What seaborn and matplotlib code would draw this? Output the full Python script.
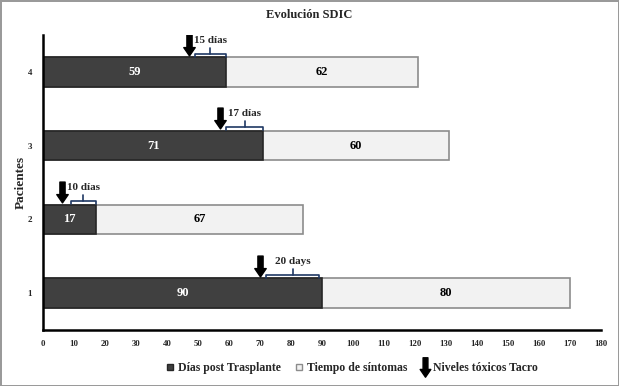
import pandas as pd
import seaborn as sns
import matplotlib.pyplot as plt
from matplotlib.path import Path
from matplotlib.lines import Line2D

# --- Data ---
pacientes = ["4", "3", "2", "1"]
dias_post = [59, 71, 17, 90]
tiempo_sintomas = [62, 60, 67, 80]
arrow_x = [47, 57, 6, 70]            # toxic tacrolimus levels
bracket_start = [49, 59, 9, 72]
bracket_end = [59, 71, 17, 89]
bracket_label = ["15 días", "17 días", "10 días", "20 days"]
x_ticks = list(range(0, 181, 10))

df = pd.DataFrame({
    "paciente": pacientes,
    "dias": dias_post,
    "sintomas": tiempo_sintomas,
})
df["total"] = df["dias"] + df["sintomas"]

sns.set_style("white")
plt.rcParams["font.family"] = ["Liberation Serif", "DejaVu Serif"]
plt.rcParams["font.weight"] = "bold"

dark = "#404040"
light = "#f2f2f2"

# thick down arrow as marker
arrow_path = Path([(-0.25, 1), (0.25, 1), (0.25, -0.2), (0.55, -0.2), (0, -1),
                   (-0.55, -0.2), (-0.25, -0.2), (-0.25, 1)], closed=True)

fig = plt.figure(figsize=(6.19, 3.86), dpi=100)
fig.patch.set_edgecolor("#9a9a9a")
fig.patch.set_linewidth(2)
ax = fig.add_axes([0.0695, 0.145, 0.9015, 0.764])

# light bars span the full total, dark bars on top
sns.barplot(data=df, x="total", y="paciente", order=pacientes, orient="h",
            color=light, edgecolor="#8c8c8c", linewidth=1.2, width=0.4,
            saturation=1, ax=ax)
sns.barplot(data=df, x="dias", y="paciente", order=pacientes, orient="h",
            color=dark, edgecolor="#262626", linewidth=1.2, width=0.4,
            saturation=1, ax=ax)

for i, row in df.iterrows():
    ax.text(row["dias"] / 2, i, str(row["dias"]), ha="center", va="center",
            color="white", fontsize=9, fontweight="bold")
    ax.text(row["dias"] + row["sintomas"] / 2, i, str(row["sintomas"]),
            ha="center", va="center", color="black", fontsize=9, fontweight="bold")

    # arrow
    ax.plot(arrow_x[i], i - 0.37, marker=arrow_path, markersize=15,
            color="black", linestyle="none")

    # bracket
    yb = i - 0.25
    x0, x1 = bracket_start[i], bracket_end[i]
    xm = (x0 + x1) / 2
    ax.plot([x0, x0, x1, x1], [i - 0.21, yb, yb, i - 0.21], color="#1f3864", lw=1.2)
    ax.plot([xm, xm], [yb, yb - 0.08], color="#1f3864", lw=1.2)
    ax.text(xm, yb - 0.12, bracket_label[i], ha="center", va="bottom",
            fontsize=8, fontweight="bold")

ax.set_xlim(0, 180)
ax.set_ylim(3.5, -0.5)
ax.set_xticks(x_ticks)
ax.set_xticklabels([str(t) for t in x_ticks], fontsize=6.3, fontweight="bold")
ax.tick_params(axis="y", labelsize=6.5, length=0, pad=8)
ax.tick_params(axis="x", length=0, pad=7)
ax.set_xlabel("")
ax.set_ylabel("Pacientes", fontsize=9.5, fontweight="bold")
ax.yaxis.set_label_coords(-0.029, 0.5)
sns.despine(ax=ax)
for s in ["left", "bottom"]:
    ax.spines[s].set_linewidth(1.8)
    ax.spines[s].set_color("black")

fig.text(0.5, 0.96, "Evolución SDIC", ha="center", va="center",
         fontsize=9, fontweight="bold")

handles = [
    Line2D([], [], marker="s", color=dark, markeredgecolor="#262626",
           markersize=5, linestyle="none"),
    Line2D([], [], marker="s", color=light, markeredgecolor="#8c8c8c",
           markersize=5, linestyle="none"),
    Line2D([], [], marker=arrow_path, color="black", markersize=14,
           linestyle="none"),
]
fig.legend(handles, ["Días post Trasplante", "Tiempo de síntomas", "Niveles tóxicos Tacro"],
           loc="center", bbox_to_anchor=(0.567, 0.046), ncol=3, frameon=False,
           prop={"size": 8.5, "weight": "bold"}, handletextpad=0.2,
           columnspacing=1.0, handlelength=1.0)

fig.savefig("out.png", dpi=100, edgecolor=fig.get_edgecolor())
